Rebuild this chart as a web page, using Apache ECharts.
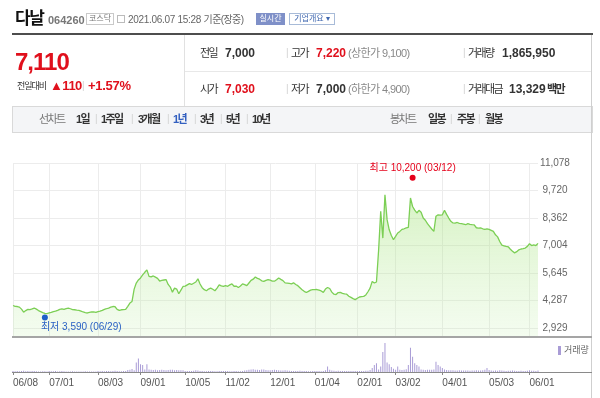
<!DOCTYPE html>
<html lang="ko">
<head>
<meta charset="UTF-8">
<title>다날 064260 - 1년 선차트</title>
<script src="https://cdn.jsdelivr.net/npm/echarts@6.0.0/dist/echarts.min.js"></script>
<style>
  html, body { margin: 0; padding: 0; background: #fff; }
  body {
    position: relative; width: 600px; height: 398px; overflow: hidden;
    font-family: "Liberation Sans", "Noto Sans CJK KR", sans-serif; color: #333;
  }
  #main { position: absolute; left: 0; top: 0; width: 600px; height: 398px; }
  .t { position: absolute; white-space: nowrap; z-index: 2; }
  .ln { position: absolute; z-index: 2; }
  .ko { letter-spacing: -1.3px; }
  .b { font-weight: bold; }
  .red { color: #e0101c; }
  .gray { color: #888; }
  .r1 { top: 46px; line-height: 14px; font-size: 12px; }
  .r2 { top: 82px; line-height: 14px; font-size: 12px; }
  .r1.ko, .r2.ko { font-size: 11px; letter-spacing: -1.6px; }
  .tab { top: 112px; line-height: 14px; font-size: 11px; }
  .tab.ko { letter-spacing: -1.6px; }
  .sep { color: #d3d3d3; font-size: 10px; }
  .box { position: absolute; z-index: 2; text-align: center; font-size: 8px; white-space: nowrap; }
</style>
</head>
<body>
  <div id="main"></div>

  <!-- 상단 종목 정보 -->
  <div class="t b ko" style="left:15px;top:8px;font-size:17px;line-height:22px;color:#111;letter-spacing:-1.5px">다날</div>
  <div class="t b" style="left:48px;top:13px;font-size:11px;line-height:14px;color:#777">064260</div>
  <div class="box" style="left:86px;top:13px;width:26px;height:10px;line-height:10px;border:1px solid #c9c9c9;color:#777">코스닥</div>
  <div class="box" style="left:117px;top:15px;width:6px;height:6px;border:1px solid #bbb"></div>
  <div class="t" style="left:128px;top:13px;font-size:10px;line-height:14px;color:#666;letter-spacing:-0.3px">2021.06.07 15:28 <span style="letter-spacing:-0.6px">기준(장중)</span></div>
  <div class="box" style="left:256px;top:13px;width:29px;height:12px;line-height:12px;background:#7f90c8;color:#fff">실시간</div>
  <div class="box" style="left:289px;top:13px;width:44px;height:10px;line-height:10px;border:1px solid #a8bbd8;color:#4068b0">기업개요 ▾</div>
  <div class="ln" style="left:12px;top:33px;width:581px;height:2px;background:#4d4d4d"></div>

  <!-- 현재가 -->
  <div class="t b red" style="left:15px;top:49px;font-size:24px;line-height:26px;letter-spacing:-1px">7,110</div>
  <div class="t ko" style="left:17px;top:80px;font-size:9px;line-height:12px;letter-spacing:-1px;color:#333">전일대비</div>
  <div class="t b red" style="left:50px;top:78px;font-size:13px;line-height:16px;letter-spacing:-0.5px">▲110</div>
  <div class="t sep" style="left:82px;top:79px;line-height:14px">|</div>
  <div class="t b red" style="left:88px;top:78px;font-size:13px;line-height:16px;letter-spacing:-0.3px">+1.57%</div>
  <div class="ln" style="left:184px;top:35px;width:1px;height:71px;background:#e1e1e1"></div>
  <div class="ln" style="left:185px;top:71px;width:407px;height:1px;background:#e8e8e8"></div>

  <div class="t r1 ko" style="left:200px">전일</div>
  <div class="t r1 b" style="left:225px">7,000</div>
  <div class="t r1 sep" style="left:286px">|</div>
  <div class="t r1 ko" style="left:291px">고가</div>
  <div class="t r1 b red" style="left:316px">7,220</div>
  <div class="t r1 gray" style="left:348px;font-size:11px;letter-spacing:-0.6px">(상한가 9,100)</div>
  <div class="t r1 sep" style="left:463px">|</div>
  <div class="t r1 ko" style="left:468px">거래량</div>
  <div class="t r1 b" style="left:502px">1,865,950</div>

  <div class="t r2 ko" style="left:200px">시가</div>
  <div class="t r2 b red" style="left:225px">7,030</div>
  <div class="t r2 sep" style="left:286px">|</div>
  <div class="t r2 ko" style="left:291px">저가</div>
  <div class="t r2 b" style="left:316px">7,000</div>
  <div class="t r2 gray" style="left:348px;font-size:11px;letter-spacing:-0.6px">(하한가 4,900)</div>
  <div class="t r2 sep" style="left:463px">|</div>
  <div class="t r2 ko" style="left:468px">거래대금</div>
  <div class="t r2 b" style="left:509px">13,329</div>
  <div class="t r2 ko b" style="left:547px">백만</div>

  <!-- 차트 탭 -->
  <div class="ln" style="left:12px;top:106px;width:579px;height:25px;background:#f4f5f7;border:1px solid #d9d9d9;z-index:1"></div>
  <div class="t tab ko" style="left:39px;color:#777">선차트</div>
  <div class="t tab b ko" style="left:76px">1일</div>
  <div class="t tab sep" style="left:95px">|</div>
  <div class="t tab b ko" style="left:101px">1주일</div>
  <div class="t tab sep" style="left:131px">|</div>
  <div class="t tab b ko" style="left:138px">3개월</div>
  <div class="t tab sep" style="left:167px">|</div>
  <div class="t tab b ko" style="left:173px;color:#3360c0">1년</div>
  <div class="t tab sep" style="left:194px">|</div>
  <div class="t tab b ko" style="left:200px">3년</div>
  <div class="t tab sep" style="left:220px">|</div>
  <div class="t tab b ko" style="left:226px">5년</div>
  <div class="t tab sep" style="left:246px">|</div>
  <div class="t tab b ko" style="left:252px">10년</div>
  <div class="t tab ko" style="left:390px;color:#777">봉차트</div>
  <div class="t tab b ko" style="left:428px">일봉</div>
  <div class="t tab sep" style="left:450px">|</div>
  <div class="t tab b ko" style="left:457px">주봉</div>
  <div class="t tab sep" style="left:478px">|</div>
  <div class="t tab b ko" style="left:485px">월봉</div>

  <!-- 테두리 -->
  <div class="ln" style="left:591px;top:35px;width:1px;height:363px;background:#cfcfcf"></div>
  <div class="ln" style="left:12px;top:336px;width:580px;height:2px;background:#a5a5a5"></div>
  <div class="ln" style="left:12px;top:372px;width:580px;height:1px;background:#8a8a8a"></div>

  <script>
    // 거래일 범위와 휴장일
    const startDay = '2020-06-08';
    const endDay = '2021-06-07';
    const holidays = ['2020-08-17', '2020-09-30', '2020-10-01', '2020-10-02', '2020-10-09',
      '2020-12-25', '2020-12-31', '2021-01-01', '2021-02-11', '2021-02-12',
      '2021-03-01', '2021-05-05', '2021-05-19'];

    // x축에 날짜가 표시되는 거래일
    const labelDays = ['2020-06-08', '2020-07-01', '2020-08-03', '2020-09-01', '2020-10-05',
      '2020-11-02', '2020-12-01', '2021-01-04', '2021-02-01', '2021-03-02',
      '2021-04-01', '2021-05-03', '2021-06-01'];

    // 종가 (원), 거래일 순서
    const closePrices = [
      4040, 4000, 3990, 3960, 3860, 3710, 3790, 3850, 3840, 3870,
      3915, 3860, 3790, 3740, 3690, 3650, 3640, 3670, 3700, 3740,
      3760, 3800, 3850, 3870, 3850, 3890, 3915, 3880, 3840, 3830,
      3810, 3800, 3760, 3720, 3690, 3670, 3700, 3730, 3720, 3700,
      3740, 3760, 3800, 3850, 3880, 3915, 3960, 3990, 3980, 3850,
      3800, 3830, 3840, 3850, 4000, 4160, 4240, 4850, 5150, 5300,
      5400, 5550, 5680, 5800, 5480, 5450, 5500, 5440, 5380, 5250,
      5280, 5300, 5320, 5080, 4950, 4700, 4900, 4850, 4620, 4800,
      4980, 5000, 5060, 5120, 5080, 5140, 5200, 5360, 5100, 4920,
      4820, 4770, 4850, 4900, 4840, 4770, 4900, 5060, 5010, 4980,
      5020, 4990, 5060, 5110, 4990, 5000, 4930, 5000, 5110, 5070,
      5020, 5150, 5280, 5340, 5450, 5380, 5340, 5260, 5230, 5280,
      5320, 5290, 5240, 5240, 5310, 5400, 5330, 5270, 5160, 5150,
      5130, 5110, 5160, 5080, 5020, 4920, 4820, 4740, 4680, 4740,
      4800, 4820, 4820, 4830, 4800, 4760, 4690, 4850, 4930, 4880,
      4700, 4600, 4580, 4680, 4690, 4640, 4610, 4600, 4500, 4440,
      4380, 4330, 4400, 4460, 4480, 4490, 4560, 4720, 4900, 5230,
      5150, 5200, 6760, 8690, 7370, 9510, 8280, 7780, 7500, 7290,
      7450, 7620, 7700, 7800, 7830, 7870, 7900, 9350, 8930, 8750,
      8610, 8740, 8650, 8360, 8250, 8080, 7950, 7820, 7700, 8450,
      8520, 8500, 8520, 8740, 8540, 8360, 8200, 8120, 8110, 8140,
      8100, 8080, 8060, 8030, 8080, 8050, 8030, 8020, 7880, 7860,
      7870, 7830, 7800, 7820, 7800, 7750, 7700, 7530, 7430, 7200,
      7020, 6990, 6960, 6940, 6820, 6720, 6640, 6700, 6790, 6830,
      6850, 6880, 6960, 7090, 7000, 7030, 7000, 7110
    ];

    // 거래량 (천주)
    const volumes = [
      1300, 1100, 1500, 900, 1200, 1600, 1000, 1300, 900, 1400,
      1200, 1000, 800, 700, 900, 1100, 800, 1300, 1000, 900,
      1200, 800, 1100, 1300, 900, 700, 800, 600, 900, 700,
      600, 800, 700, 600, 900, 800, 700, 600, 800, 700,
      1200, 900, 1400, 1000, 1300, 1500, 1100, 1400, 1600, 1200,
      900, 1000, 1200, 1400, 2600, 3000, 4000, 2500, 13000, 18400,
      10500, 9600, 3500, 10500, 3500, 3000, 2800, 3200, 2500, 2700,
      3000, 2600, 2400, 2800, 3100, 2900, 2500, 2600, 2300, 2400,
      2200, 1500, 1300, 1200, 1400, 1600, 2200, 2000, 1500, 1200,
      1100, 1000, 1300, 1400, 1200, 1100, 1000, 1300, 1200, 1500,
      1400, 1300, 1100, 1000, 1200, 1300, 1100, 1000, 1400, 2000,
      2500, 3000, 3500, 3800, 3200, 2900, 2600, 3400, 3300, 2800,
      2500, 2400, 2600, 3000, 2700, 2200, 2000, 1900, 2300, 2100,
      1800, 1500, 1300, 1400, 1200, 1600, 1400, 1300, 1200, 1100,
      1000, 1200, 1400, 1300, 1200, 1100, 1300, 2500, 7500, 3000,
      2000, 1600, 1400, 1800, 1500, 1300, 1200, 1400, 1300, 1200,
      1500, 1400, 1300, 1200, 1500, 1400, 1600, 1800, 2600, 5300,
      9600, 11800, 3500, 7500, 27200, 39400, 12700, 10500, 6600, 4400,
      3000, 7500, 3000, 2800, 3200, 3600, 9600, 32800, 20600, 11800,
      9600, 7500, 3500, 3000, 2800, 3200, 2900, 3100, 3500, 14000,
      9600, 7500, 5300, 3500, 2800, 2500, 2300, 2200, 2100, 2000,
      2200, 2100, 1900, 2000, 2100, 1800, 1900, 2000, 2200, 1900,
      2000, 2300, 3200, 5300, 2600, 2000, 1800, 1900, 1700, 2200,
      2000, 1700, 1500, 1600, 1800, 1900, 1700, 1500, 1400, 1600,
      1500, 1400, 1700, 2300, 1800, 1600, 1500, 1866
    ];

    // 가격축 눈금 (11,078 ~ 2,929, 6칸)
    const priceAxisMin = 2929;
    const priceAxisMax = 11078;
    const priceSteps = 6;
    const volumeAxisMax = 46000;

    // 최고/최저 표시
    const highMark = { day: '2021-03-12', price: 10200 };
    const lowMark = { day: '2020-06-29', price: 3590 };

    function buildDays() {
      const out = [];
      const d = new Date(startDay + 'T00:00:00Z');
      const end = new Date(endDay + 'T00:00:00Z');
      while (d <= end) {
        const s = d.toISOString().slice(0, 10);
        const wd = d.getUTCDay();
        if (wd !== 0 && wd !== 6 && !holidays.includes(s)) out.push(s);
        d.setUTCDate(d.getUTCDate() + 1);
      }
      return out;
    }
    const days = buildDays();

    const fontFamily = '"Liberation Sans","Noto Sans CJK KR",sans-serif';
    const fmtNum = v => Math.round(v).toLocaleString('en-US');
    const mmdd = v => v.slice(5).replace('-', '/');
    const isLabelDay = (i, v) => labelDays.includes(v != null ? v : days[i]);

    // 눈금 격자(165px)와 실제 가격 영역(173px, 회색 바닥선까지)의 스케일을 맞춘다
    const scaleTop = 163, scaleHeight = 165, priceHeight = 173;
    const pricePerPx = (priceAxisMax - priceAxisMin) / scaleHeight;
    const priceMin = priceAxisMax - priceHeight * pricePerPx;

    const chart = echarts.init(document.getElementById('main'));
    const option = {
      animation: false,
      textStyle: { fontFamily: fontFamily },
      grid: [
        { left: 13, right: 62, top: scaleTop, height: scaleHeight },
        { left: 13, right: 62, top: scaleTop, height: priceHeight },
        { left: 13, right: 62, top: 338, height: 34 }
      ],
      legend: {
        data: ['거래량'],
        left: 553, top: 341,
        icon: 'rect', itemWidth: 3, itemHeight: 9, itemGap: 3,
        selectedMode: false,
        textStyle: { fontSize: 9, color: '#666', padding: [0, 0, 0, -2] }
      },
      xAxis: [
        { gridIndex: 0, type: 'category', data: days, boundaryGap: false, show: false },
        {
          gridIndex: 1, type: 'category', data: days, boundaryGap: false,
          axisLine: { show: false }, axisTick: { show: false }, axisLabel: { show: false },
          splitLine: { show: true, interval: isLabelDay, lineStyle: { color: '#ececec' } }
        },
        {
          gridIndex: 2, type: 'category', data: days, boundaryGap: false,
          axisLine: { show: false },
          axisTick: { show: true, interval: isLabelDay, length: 3, lineStyle: { color: '#888' } },
          axisLabel: {
            show: true, interval: isLabelDay, formatter: mmdd,
            align: 'left', margin: 6, fontSize: 10, color: '#555'
          },
          splitLine: { show: false }
        }
      ],
      yAxis: [
        {
          gridIndex: 0, type: 'value', position: 'right',
          min: priceAxisMin, max: priceAxisMax,
          interval: (priceAxisMax - priceAxisMin) / priceSteps,
          axisLine: { show: false }, axisTick: { show: false },
          axisLabel: { formatter: fmtNum, align: 'center', margin: 17, fontSize: 10, color: '#666' },
          splitLine: { show: true, lineStyle: { color: '#ececec' } }
        },
        { gridIndex: 1, type: 'value', min: priceMin, max: priceAxisMax, show: false },
        { gridIndex: 2, type: 'value', min: 0, max: volumeAxisMax, show: false }
      ],
      series: [
        {
          name: '종가', type: 'line',
          xAxisIndex: 1, yAxisIndex: 1,
          data: closePrices,
          showSymbol: false, silent: true,
          lineStyle: { color: '#7ccf55', width: 1.3 },
          areaStyle: {
            color: new echarts.graphic.LinearGradient(0, 0, 0, 1, [
              { offset: 0, color: 'rgba(160,225,115,0.6)' },
              { offset: 1, color: 'rgba(200,240,180,0.3)' }
            ])
          },
          markPoint: {
            symbol: 'circle', symbolSize: 6, silent: true,
            data: [
              {
                coord: [highMark.day, highMark.price], symbolOffset: [0, -3],
                itemStyle: { color: '#e5001a' },
                label: {
                  show: true, position: 'top', distance: 2, fontSize: 10, color: '#e5001a',
                  formatter: '최고 ' + fmtNum(highMark.price) + ' (' + mmdd(highMark.day) + ')'
                }
              },
              {
                coord: [lowMark.day, lowMark.price], symbolOffset: [0, 3],
                itemStyle: { color: '#1d5fc8' },
                label: {
                  show: true, position: 'bottom', distance: 2, align: 'left', offset: [-4, 0],
                  fontSize: 10, color: '#2a62c4',
                  formatter: '최저 ' + fmtNum(lowMark.price) + ' (' + mmdd(lowMark.day) + ')'
                }
              }
            ]
          }
        },
        {
          name: '거래량', type: 'bar',
          xAxisIndex: 2, yAxisIndex: 2,
          data: volumes, barWidth: 1, silent: true,
          itemStyle: { color: '#a99cd6' }
        }
      ]
    };
    chart.setOption(option);
  </script>
</body>
</html>
